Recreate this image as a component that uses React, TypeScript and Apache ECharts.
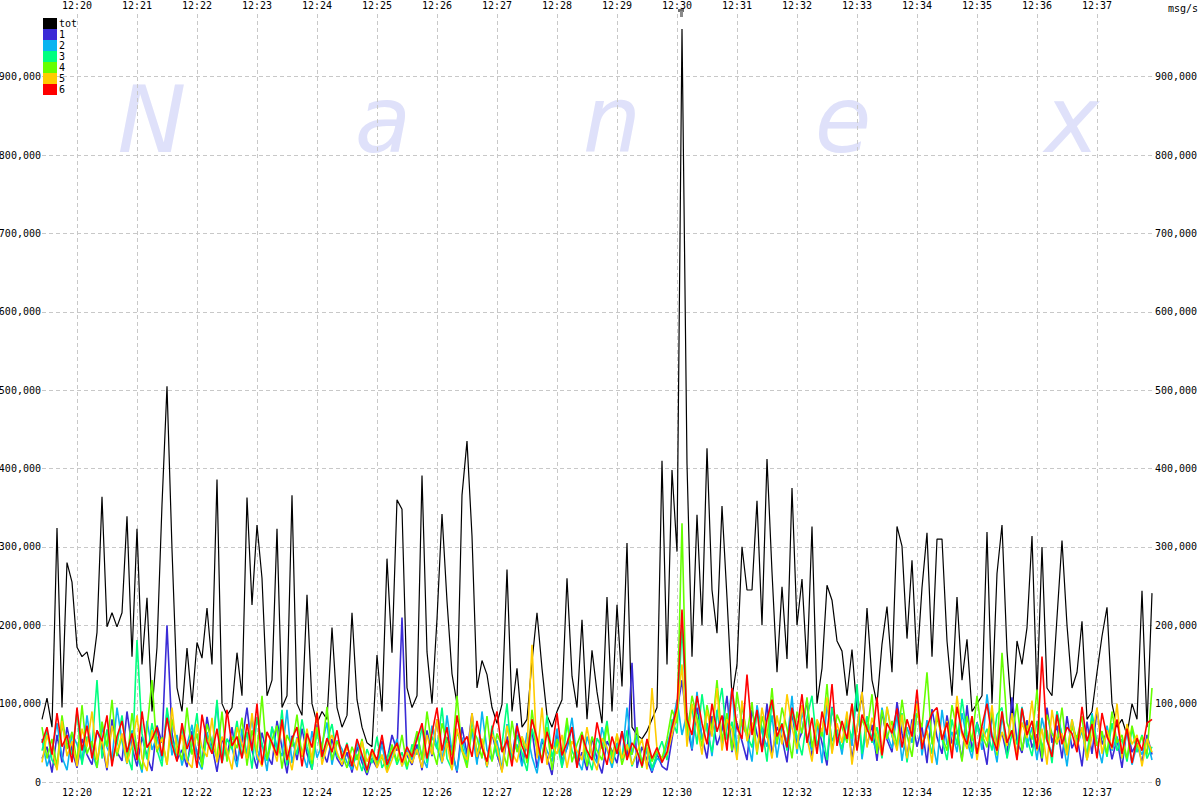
import React, { useEffect, useRef } from "react";
import * as echarts from "echarts";

// time base: 12:19:25, one sample every 5 seconds
const START = new Date(2010, 4, 6, 12, 19, 25).getTime();
const END = new Date(2010, 4, 6, 12, 37, 56).getTime();
const STEP_MS = 5000;

const seriesNames = ["tot", "1", "2", "3", "4", "5", "6"];
const seriesColors = ["#000000", "#3a2bd6", "#0ab4f0", "#00ff7f", "#66ff00", "#ffcc00", "#ff0000"];
const yTicks = [0, 100000, 200000, 300000, 400000, 500000, 600000, 700000, 800000, 900000];
const watermark = ["N", "a", "n", "e", "x"];

// values in thousands of msg/s
const tot = [
  80, 107, 70, 324, 95, 280, 255, 172, 160, 166,
  140, 191, 364, 198, 216, 198, 216, 339, 160, 323,
  150, 235, 90, 172, 354, 505, 297, 120, 90, 171,
  100, 178, 158, 222, 150, 386, 100, 85, 95, 165,
  110, 363, 226, 328, 260, 110, 130, 323, 95, 110,
  366, 100, 85, 239, 100, 75, 90, 80, 197, 95,
  70, 85, 216, 105, 70, 50, 45, 162, 90, 285,
  165, 360, 348, 120, 95, 110, 391, 166, 100, 208,
  342, 231, 138, 100, 366, 435, 314, 120, 155, 137,
  95, 75, 99, 271, 90, 145, 70, 80, 154, 216,
  145, 85, 70, 90, 105, 260, 135, 95, 207, 80,
  168, 115, 75, 236, 90, 226, 122, 305, 70, 60,
  55, 65, 80, 95, 410, 150, 398, 294, 961, 406,
  160, 341, 200, 426, 245, 190, 352, 235, 108, 150,
  300, 245, 245, 359, 200, 412, 268, 140, 249, 157,
  375, 200, 259, 145, 326, 100, 145, 251, 232, 180,
  167, 110, 169, 90, 105, 222, 130, 100, 176, 224,
  140, 326, 301, 183, 283, 150, 248, 318, 160, 310,
  310, 180, 110, 236, 130, 182, 90, 100, 110, 319,
  100, 266, 328, 167, 80, 180, 150, 197, 314, 110,
  300, 120, 110, 210, 308, 200, 120, 140, 205, 80,
  90, 140, 186, 223, 100, 70, 80, 60, 100, 80,
  244, 70, 241,
];

const s1 = [
  30, 45, 12, 60, 25, 70, 40, 18, 55, 35, 22, 66, 48, 15, 80, 38, 27, 90, 44, 20,
  58, 33, 14, 72, 50, 200, 62, 28, 41, 19, 65, 37, 24, 83, 46, 13, 57, 31, 70, 26,
  52, 95, 40, 17, 63, 35, 22, 78, 44, 11, 59, 28, 68, 36, 16, 74, 42, 25, 55, 30,
  20, 38, 12, 45, 25, 9, 30, 18, 52, 27, 60, 40, 210, 34, 22,
  48, 15, 66, 33, 80, 24, 57, 41, 12, 70, 36, 88, 28, 50, 19, 62, 35, 14, 58, 30,
  75, 22, 47, 66, 18, 54, 32, 9, 61, 27, 43, 70, 20, 38, 15, 57, 29, 11, 52, 40,
  24, 65, 33, 152, 18, 45, 28, 12, 36, 20, 15,
  55, 90, 130, 72, 40, 95, 58, 30, 84, 47, 66, 110, 38, 75, 52, 28, 92, 61, 44, 100,
  35, 70, 56, 25, 88, 48, 64, 105, 33, 78, 50, 21, 96, 59, 42, 82, 30, 68, 115, 46,
  73, 27, 90, 54, 38, 102, 62, 31, 80, 45, 70, 24, 93, 57, 36, 85, 49, 66, 28, 98,
  40, 76, 55, 22, 88, 47, 63, 33, 108, 52, 37, 79, 44, 61, 26, 95, 50, 72, 30, 84,
  43, 58, 20, 77, 36, 92, 48, 65, 29, 55, 18, 70, 38, 50, 25, 60, 35,
];

const s2 = [
  55, 20, 40, 75, 32, 15, 62, 48, 26, 85, 38, 18, 70, 44, 29, 95, 52, 23, 66, 35,
  12, 78, 41, 58, 27, 90, 34, 60, 21, 47, 73, 30, 16, 64, 39, 100, 25, 55, 43, 19,
  68, 36, 82, 28, 50, 14, 71, 45, 33, 92, 24, 57, 40, 18, 65, 31, 48, 76, 22, 53,
  42, 25, 16, 50, 30, 12, 38, 22, 48, 15, 35, 55, 20, 44, 28,
  60, 33, 18, 72, 45, 24, 85, 38, 14, 57, 30, 66, 22, 90, 41, 27, 53, 16, 74, 36,
  48, 20, 63, 32, 11, 55, 40, 26, 68, 19, 45, 82, 30, 15, 58, 37, 24, 70, 42, 18,
  50, 28, 95, 35, 60, 22, 40, 14, 30, 25, 48,
  70, 105, 60, 88, 42, 115, 54, 75, 33, 92, 48, 68, 120, 39, 80, 57, 26, 98, 63, 45,
  85, 31, 72, 50, 110, 36, 90, 58, 40, 76, 24, 100, 52, 67, 35, 82, 46, 118, 29, 74,
  56, 38, 95, 61, 43, 86, 27, 70, 50, 104, 34, 79, 55, 22, 92, 47, 64, 38, 88, 53,
  30, 76, 41, 112, 58, 25, 84, 49, 66, 35, 96, 44, 70, 28, 82, 52, 37, 90, 60, 20,
  74, 46, 65, 32, 88, 50, 24, 72, 40, 58, 30, 66, 22, 48, 35, 55, 28,
];

const s3 = [
  40, 65, 28, 18, 72, 50, 35, 90, 22, 58, 44, 130, 30, 67, 25, 48, 85, 36, 15, 181,
  62, 29, 75, 41, 20, 95, 53, 33, 70, 26, 46, 88, 19, 60, 37, 105, 24, 55, 42, 78,
  31, 64, 17, 83, 49, 27, 70, 38, 92, 21, 57, 35, 80, 45, 16, 66, 29, 52, 74, 33,
  28, 50, 20, 35, 14, 42, 24, 58, 18, 30, 46, 22, 38, 16, 48,
  35, 70, 24, 58, 42, 95, 30, 16, 64, 47, 22, 80, 38, 55, 19, 72, 33, 48, 100, 26,
  60, 37, 14, 68, 44, 28, 85, 32, 52, 18, 75, 40, 25, 62, 36, 15, 56, 43, 78, 23,
  47, 30, 66, 20, 38, 26, 44, 18, 35, 52, 28,
  80, 62, 200, 70, 95, 48, 112, 66, 38, 85, 120, 54, 77, 32, 98, 60, 44, 88, 70, 26,
  105, 52, 75, 40, 92, 58, 34, 82, 110, 46, 68, 28, 95, 63, 42, 78, 55, 125, 36, 84,
  50, 70, 30, 96, 58, 44, 88, 25, 72, 100, 48, 64, 36, 90, 55, 28, 80, 47, 106, 60,
  38, 74, 52, 68, 40, 86, 95, 30, 62, 48, 95, 56, 33, 78, 44, 66, 24, 90, 58, 36,
  80, 50, 70, 28, 85, 46, 62, 32, 75, 40, 55, 26, 68, 38, 60, 30, 45,
];

const s4 = [
  70, 30, 55, 20, 85, 42, 64, 25, 98, 36, 52, 18, 77, 45, 105, 33, 60, 24, 88, 40,
  16, 68, 130, 38, 57, 22, 80, 47, 28, 95, 35, 62, 19, 74, 50, 30, 90, 26, 58, 43,
  82, 21, 66, 38, 110, 29, 54, 72, 17, 60, 45, 86, 32, 64, 23, 70, 41, 96, 28, 52,
  36, 18, 45, 28, 55, 12, 40, 24, 32, 16, 48, 26, 60, 20, 38,
  65, 28, 90, 44, 22, 75, 52, 34, 110, 40, 18, 68, 56, 30, 84, 26, 62, 45, 20, 78,
  38, 58, 24, 92, 42, 30, 70, 15, 55, 36, 82, 25, 48, 64, 20, 58, 40, 28, 72, 32,
  60, 22, 45, 35, 70, 18, 52, 26, 40, 30, 55,
  92, 75, 330, 58, 110, 82, 45, 98, 66, 130, 52, 88, 40, 115, 72, 60, 102, 35, 84, 56,
  120, 48, 95, 68, 30, 90, 62, 108, 44, 76, 58, 125, 38, 86, 70, 50, 100, 42, 80, 64,
  112, 36, 92, 55, 78, 46, 105, 60, 32, 88, 70, 140, 48, 82, 58, 40, 98, 66, 26, 84,
  52, 110, 60, 44, 92, 34, 165, 76, 58, 100, 40, 72, 54, 118, 30, 86, 62, 48, 95, 38,
  70, 56, 84, 28, 78, 46, 65, 36, 90, 50, 60, 30, 72, 44, 58, 35, 120,
];

const s5 = [
  25, 60, 40, 15, 78, 33, 52, 20, 68, 45, 90, 28, 56, 18, 72, 38, 62, 24, 47, 85,
  30, 14, 66, 42, 55, 22, 95, 36, 60, 27, 18, 74, 44, 32, 82, 25, 58, 40, 16, 70,
  48, 30, 88, 35, 20, 63, 50, 26, 77, 42, 15, 56, 34, 68, 28, 90, 22, 46, 60, 38,
  22, 45, 30, 15, 52, 26, 40, 18, 35, 12, 28, 48, 20, 38, 24,
  42, 18, 60, 35, 80, 25, 50, 15, 68, 40, 28, 88, 32, 55, 20, 62, 45, 12, 72, 38,
  25, 58, 42, 175, 30, 95, 22, 48, 36, 60, 18, 52, 40, 28, 70, 33, 15, 56, 44, 24,
  62, 30, 48, 22, 38, 55, 16, 120, 42, 28, 35,
  60, 88, 150, 45, 100, 72, 35, 92, 58, 120, 40, 80, 66, 28, 104, 52, 76, 38, 95, 60,
  30, 85, 48, 112, 70, 42, 98, 56, 26, 80, 64, 108, 36, 75, 50, 90, 22, 68, 115, 44,
  82, 58, 34, 96, 62, 40, 86, 30, 72, 100, 48, 66, 24, 90, 54, 78, 36, 110, 60, 42,
  84, 28, 70, 52, 98, 38, 64, 46, 88, 30, 76, 56, 104, 40, 68, 22, 92, 50, 62, 34,
  80, 45, 70, 28, 58, 95, 36, 66, 42, 100, 30, 74, 48, 60, 20, 55, 38,
];

const s6 = [
  50, 70, 35, 88, 45, 60, 25, 95, 40, 72, 30, 66, 52, 85, 20, 58, 78, 38, 62, 28,
  90, 44, 55, 70, 33, 82, 48, 26, 75, 42, 60, 18, 86, 52, 36, 68, 24, 92, 46, 58,
  30, 74, 40, 100, 22, 64, 50, 34, 80, 28, 55, 70, 20, 62, 44, 88, 32, 56, 38, 66,
  30, 48, 20, 55, 35, 15, 42, 28, 60, 22, 38, 50, 25, 45, 32,
  55, 75, 30, 62, 95, 40, 70, 22, 85, 48, 58, 32, 78, 44, 26, 66, 90, 38, 54, 20,
  72, 46, 30, 80, 56, 24, 64, 42, 88, 34, 50, 70, 18, 60, 40, 28, 76, 45, 22, 58,
  36, 65, 28, 50, 40, 20, 55, 30, 44, 25, 38,
  70, 95, 220, 80, 60, 110, 75, 48, 100, 64, 85, 40, 120, 70, 55, 137, 60, 92, 38, 80,
  105, 58, 74, 44, 95, 66, 112, 50, 82, 36, 90, 60, 125, 46, 78, 55, 100, 40, 86, 68,
  52, 108, 34, 75, 62, 94, 44, 80, 58, 118, 42, 70, 88, 95, 54, 76, 30, 96, 64, 48,
  84, 36, 72, 100, 58, 40, 90, 50, 66, 28, 94, 60, 78, 42, 160, 54, 32, 86, 48, 70,
  62, 38, 96, 52, 74, 30, 88, 58, 44, 80, 36, 68, 24, 56, 40, 75, 80,
];

const allSeries = [tot, s1, s2, s3, s4, s5, s6];

const MONO = '"DejaVu Sans Mono", monospace';

function fmtTime(v: number) {
  const d = new Date(v);
  const h = String(d.getHours()).padStart(2, "0");
  const m = String(d.getMinutes()).padStart(2, "0");
  return `${h}:${m}`;
}

function fmtNum(v: number) {
  return Math.round(v).toLocaleString("en-US");
}

export default function App() {
  const ref = useRef<HTMLDivElement>(null);

  useEffect(() => {
    if (!ref.current) return;
    const chart = echarts.init(ref.current, undefined, { renderer: "svg" });

    const xAxisCommon = {
      type: "time" as const,
      min: START,
      max: END,
      minInterval: 60000,
      maxInterval: 60000,
      axisLine: { show: false },
      axisTick: { show: false },
      splitLine: {
        show: true,
        showMinLine: false,
        showMaxLine: false,
        lineStyle: { color: "#c8c8c8", type: [4, 3] as any, width: 1 },
      },
      axisLabel: {
        formatter: (v: number) => fmtTime(v),
        color: "#000",
        fontFamily: MONO,
        fontSize: 10,
        showMinLabel: false,
        showMaxLabel: false,
        hideOverlap: false,
      },
    };

    const legendGraphics: any[] = [];
    seriesNames.forEach((n, k) => {
      legendGraphics.push({
        type: "rect",
        shape: { x: 43, y: 18 + k * 11, width: 14, height: 11 },
        style: { fill: seriesColors[k] },
        z: 10,
      });
      legendGraphics.push({
        type: "text",
        x: 59,
        y: 23.5 + k * 11,
        style: {
          text: n,
          font: `10px ${MONO}`,
          fill: "#000",
          textVerticalAlign: "middle",
          verticalAlign: "middle",
        },
        z: 10,
      });
    });

    const wmX = [152, 383, 612, 843, 1072];
    const wmGraphics = watermark.map((ch, k) => ({
      type: "text",
      x: wmX[k],
      y: 120,
      z: -10,
      style: {
        text: ch,
        font: `italic 92px "DejaVu Sans", sans-serif`,
        fill: "#dfe1fa",
        align: "center",
        verticalAlign: "middle",
        textAlign: "center",
        textVerticalAlign: "middle",
      },
    }));

    const option: any = {
      animation: false,
      backgroundColor: "#ffffff",
      grid: {
        left: 42,
        right: 47,
        top: 14,
        bottom: 18,
        containLabel: false,
        outerBoundsMode: "none",
      },
      xAxis: [
        { ...xAxisCommon, position: "bottom", axisLabel: { ...xAxisCommon.axisLabel, margin: 5 } },
        { ...xAxisCommon, position: "top", splitLine: { show: false }, axisLabel: { ...xAxisCommon.axisLabel, margin: 4 } },
      ],
      yAxis: [
        {
          type: "value",
          min: 0,
          max: 980000,
          interval: 100000,
          position: "left",
          axisLine: { show: false },
          axisTick: { show: false },
          splitLine: {
            show: true,
            showMaxLine: false,
            lineStyle: { color: "#c8c8c8", type: [4, 3], width: 1 },
          },
          axisLabel: {
            formatter: (v: number) => (yTicks.includes(v) ? fmtNum(v) : ""),
            color: "#000",
            fontFamily: MONO,
            fontSize: 10,
            margin: 1,
            showMaxLabel: false,
          },
        },
        {
          type: "value",
          min: 0,
          max: 980000,
          interval: 100000,
          position: "right",
          axisLine: { show: false },
          axisTick: { show: false },
          splitLine: { show: false },
          axisLabel: {
            formatter: (v: number) => (yTicks.includes(v) ? fmtNum(v) : ""),
            color: "#000",
            fontFamily: MONO,
            fontSize: 10,
            margin: 2,
            showMaxLabel: false,
          },
        },
      ],
      graphic: [
        ...wmGraphics,
        ...legendGraphics,
        {
          type: "text",
          x: 1168,
          y: 8,
          style: {
            text: "msg/s",
            font: `10px ${MONO}`,
            fill: "#000",
            verticalAlign: "middle",
            textVerticalAlign: "middle",
          },
        },
        {
          type: "rect",
          shape: { x: 678, y: 9, width: 6, height: 3 },
          style: { fill: "#707070" },
        },
        {
          type: "rect",
          shape: { x: 680, y: 11, width: 3, height: 6 },
          style: { fill: "#8a8a8a" },
        },
      ],
      series: allSeries.map((arr, k) => ({
        name: seriesNames[k],
        type: "line",
        xAxisIndex: 0,
        yAxisIndex: 0,
        showSymbol: false,
        symbol: "none",
        silent: true,
        lineStyle: { color: seriesColors[k], width: k === 0 ? 1.2 : 1.6 },
        itemStyle: { color: seriesColors[k] },
        z: 2 + k,
        data: arr.map((v, i) => [START + i * STEP_MS, v * 1000]),
      })),
    };

    chart.setOption(option);
    return () => chart.dispose();
  }, []);

  return (
    <div
      ref={ref}
      style={{ position: "fixed", left: 0, top: 0, width: 1200, height: 800, background: "#fff" }}
    />
  );
}
